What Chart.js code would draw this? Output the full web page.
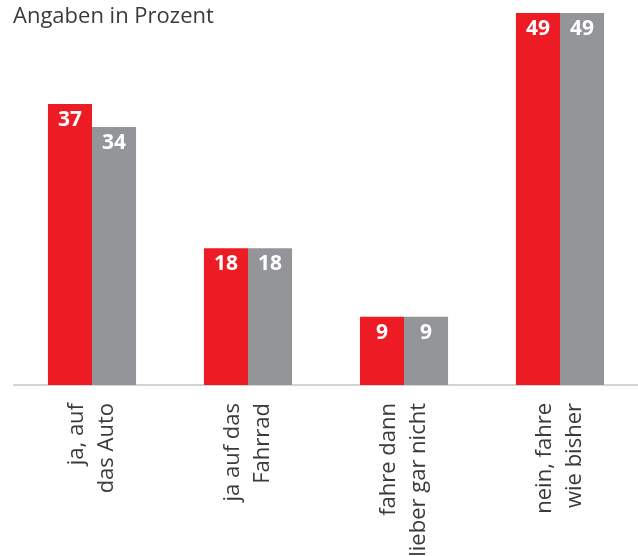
<!DOCTYPE html>
<html lang="de">
<head>
  <meta charset="UTF-8">
  <title>Angaben in Prozent</title>
  <script src="https://cdn.jsdelivr.net/npm/chart.js"></script>
  <style>
    body {
      margin: 0;
      padding: 0;
      background-color: #ffffff;
    }
    .chart-container {
      position: relative;
      width: 638px;
      height: 556px;
    }
  </style>
</head>
<body>
  <div class="chart-container">
    <canvas id="barChart"></canvas>
  </div>

  <script>
    const categories = [
      ['ja, auf', 'das Auto'],
      ['ja auf das', 'Fahrrad'],
      ['fahre dann', 'lieber gar nicht'],
      ['nein, fahre', 'wie bisher']
    ];
    const serieRouge = [37, 18, 9, 49];
    const serieGrise = [34, 18, 9, 49];
    const titre = 'Angaben in Prozent';

    // titre en haut a gauche + valeurs dans les barres
    const textePlugin = {
      id: 'texte',
      afterDatasetsDraw(chart) {
        const ctx = chart.ctx;
        ctx.save();
        ctx.fillStyle = '#3a3a3a';
        ctx.font = '22px "Open Sans", sans-serif';
        ctx.textAlign = 'left';
        ctx.textBaseline = 'alphabetic';
        ctx.fillText(titre, 13, 23);

        ctx.fillStyle = '#ffffff';
        ctx.font = 'bold 21px "Open Sans", sans-serif';
        ctx.textAlign = 'center';
        ctx.textBaseline = 'middle';
        chart.data.datasets.forEach((ds, i) => {
          chart.getDatasetMeta(i).data.forEach((bar, j) => {
            ctx.fillText(ds.data[j], bar.x, bar.y + 16);
          });
        });
        ctx.restore();
      }
    };

    new Chart(document.getElementById('barChart'), {
      type: 'bar',
      data: {
        labels: categories,
        datasets: [
          { data: serieRouge, backgroundColor: '#ED1C24' },
          { data: serieGrise, backgroundColor: '#939598' }
        ]
      },
      options: {
        responsive: true,
        maintainAspectRatio: false,
        animation: false,
        layout: { padding: { top: 13, left: 14, right: 0, bottom: 0 } },
        plugins: {
          legend: { display: false },
          tooltip: { enabled: false }
        },
        datasets: {
          bar: { categoryPercentage: 0.565, barPercentage: 1 }
        },
        scales: {
          x: {
            grid: { display: false, drawTicks: false },
            border: { display: true, color: '#d4d4d4', width: 2 },
            ticks: {
              color: '#3a3a3a',
              font: { family: '"Open Sans", sans-serif', size: 22, lineHeight: 1.33 },
              minRotation: 90,
              maxRotation: 90,
              padding: 18,
              labelOffset: -15,
              autoSkip: false
            },
            afterFit(scale) { scale.height = 171; }
          },
          y: {
            display: false,
            min: 0,
            max: 49
          }
        }
      },
      plugins: [textePlugin]
    });
  </script>
</body>
</html>
